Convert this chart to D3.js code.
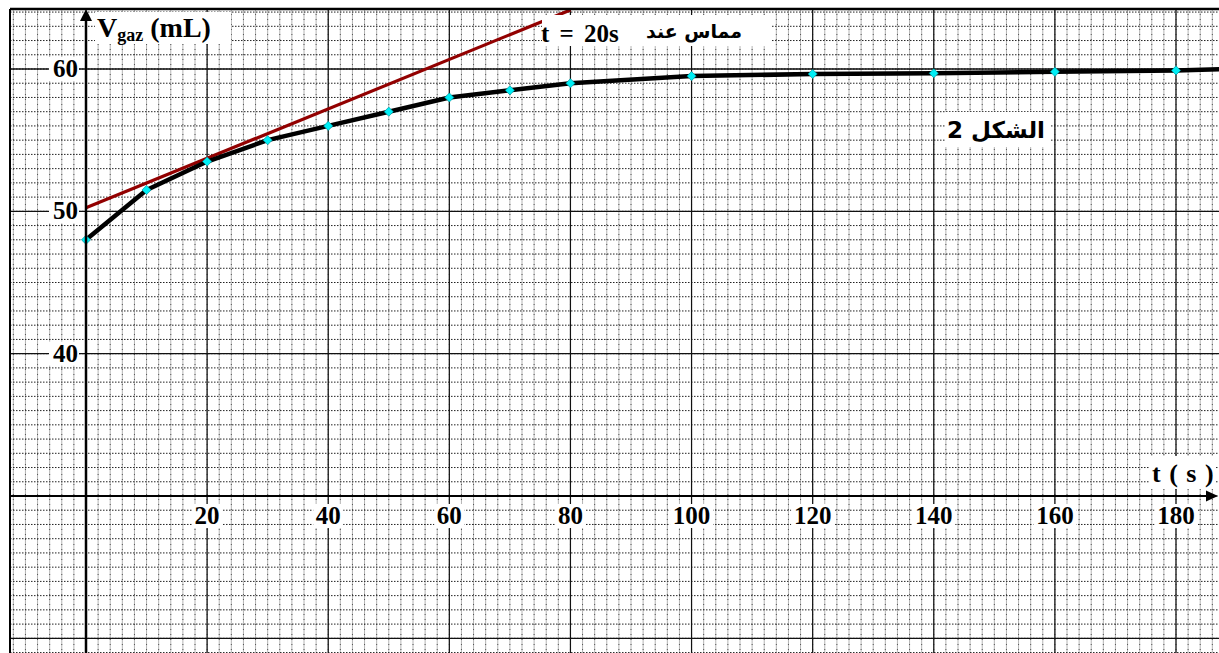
<!DOCTYPE html>
<html>
<head>
<meta charset="utf-8">
<script src="https://cdn.jsdelivr.net/npm/d3@7"></script>
<style>
  html, body { margin: 0; padding: 0; background: #fff; }
  svg { display: block; }
  text { font-family: "Liberation Serif", "Times New Roman", serif; font-weight: bold; }
  .ar { font-family: "DejaVu Sans", "Noto Sans", sans-serif; font-weight: bold; }
</style>
</head>
<body>
<script>
// ---- data ----
const times   = [0, 10, 20, 30, 40, 50, 60, 70, 80, 100, 120, 140, 160, 180];
const volumes = [48, 51.5, 53.5, 55, 56, 57, 58, 58.5, 59, 59.5, 59.65, 59.7, 59.8, 59.9];
const tailTime = [188];
const tailVolume = [60];
const tangentTimes = [0, 80];
const tangentVolumes = [50.25, 64.15];
const xTickLabels = [20, 40, 60, 80, 100, 120, 140, 160, 180];
const yTickLabels = [40, 50, 60];

const W = 1219, H = 653;
const svg = d3.select("body").append("svg").attr("width", W).attr("height", H);

const frame = {left: 10, top: 9, right: W, bottom: H};
const x = d3.scaleLinear().domain([0, 180]).range([86, 1176]);
const y = d3.scaleLinear().domain([30, 60]).range([496, 69]);

svg.append("defs").append("clipPath").attr("id", "clip")
  .append("rect").attr("x", frame.left).attr("y", frame.top)
  .attr("width", frame.right - frame.left).attr("height", frame.bottom - frame.top);

const g = svg.append("g").attr("clip-path", "url(#clip)");

// grid
const xMinor = d3.range(-12, 190, 2);
const yMinor = d3.range(19, 66, 1);
const xMajor = d3.range(20, 200, 20);
const yMajor = [20, 40, 50, 60];

g.selectAll(".vmin").data(xMinor).enter().append("line")
  .attr("x1", d => x(d)).attr("x2", d => x(d))
  .attr("y1", frame.top).attr("y2", frame.bottom)
  .attr("stroke", "#b4b4b4").attr("stroke-width", 1);
g.selectAll(".vmind").data(xMinor).enter().append("line")
  .attr("x1", d => x(d)).attr("x2", d => x(d))
  .attr("y1", frame.top).attr("y2", frame.bottom)
  .attr("stroke", "#555").attr("stroke-width", 1).attr("stroke-dasharray", "1,4");
g.selectAll(".hmin").data(yMinor).enter().append("line")
  .attr("x1", frame.left).attr("x2", frame.right)
  .attr("y1", d => y(d)).attr("y2", d => y(d))
  .attr("stroke", "#222").attr("stroke-width", 1).attr("stroke-dasharray", "1.5,1.5");
g.selectAll(".vmaj").data(xMajor).enter().append("line")
  .attr("x1", d => x(d)).attr("x2", d => x(d))
  .attr("y1", frame.top).attr("y2", frame.bottom)
  .attr("stroke", "#111").attr("stroke-width", 1.2);
g.selectAll(".hmaj").data(yMajor).enter().append("line")
  .attr("x1", frame.left).attr("x2", frame.right)
  .attr("y1", d => y(d)).attr("y2", d => y(d))
  .attr("stroke", "#111").attr("stroke-width", 1.3);

// frame lines
svg.append("line").attr("x1", frame.left).attr("x2", frame.left)
  .attr("y1", frame.top).attr("y2", frame.bottom).attr("stroke", "#000").attr("stroke-width", 2);
svg.append("line").attr("x1", frame.left).attr("x2", frame.right)
  .attr("y1", frame.top).attr("y2", frame.top).attr("stroke", "#000").attr("stroke-width", 2.5);

// axes
svg.append("line").attr("x1", x(0)).attr("x2", x(0))
  .attr("y1", frame.bottom).attr("y2", frame.top + 6).attr("stroke", "#000").attr("stroke-width", 2.5);
svg.append("path").attr("d", `M${x(0)},${frame.top} l-6,12 l12,0 z`).attr("fill", "#000");
svg.append("line").attr("x1", frame.left).attr("x2", W - 6)
  .attr("y1", y(30)).attr("y2", y(30)).attr("stroke", "#000").attr("stroke-width", 2);
svg.append("path").attr("d", `M${W - 1},${y(30)} l-12,-5.5 l0,11 z`).attr("fill", "#000");

// tangent
const tangent = tangentTimes.map((t, i) => [t, tangentVolumes[i]]);
g.append("path").datum(tangent)
  .attr("d", d3.line().x(d => x(d[0])).y(d => y(d[1])))
  .attr("stroke", "#920000").attr("stroke-width", 3.2).attr("fill", "none");

// curve
const pts = times.map((t, i) => [t, volumes[i]]);
const full = pts.concat(tailTime.map((t, i) => [t, tailVolume[i]]));
g.append("path").datum(full)
  .attr("d", d3.line().x(d => x(d[0])).y(d => y(d[1])))
  .attr("stroke", "#000").attr("stroke-width", 4.5).attr("fill", "none")
  .attr("stroke-linejoin", "round");
g.selectAll(".pt").data(pts).enter().append("path")
  .attr("transform", d => `translate(${x(d[0])},${y(d[1])}) rotate(45)`)
  .attr("d", d3.symbol().type(d3.symbolSquare).size(42))
  .attr("fill", "#00eef5").attr("stroke", "#008f96").attr("stroke-width", 0.6);

function boxedText(bx, by, bw, bh) {
  svg.append("rect").attr("x", bx).attr("y", by).attr("width", bw).attr("height", bh).attr("fill", "#fff");
}

// x tick labels
xTickLabels.forEach(v => {
  const w = String(v).length * 13 + 4;
  svg.append("rect").attr("x", x(v) - w / 2).attr("y", 504).attr("width", w).attr("height", 24).attr("fill", "#fff");
});
svg.selectAll(".xl").data(xTickLabels).enter().append("text")
  .attr("x", d => x(d)).attr("y", 524).attr("text-anchor", "middle")
  .attr("font-size", 25).text(d => d);

// y tick labels
yTickLabels.forEach(v => {
  svg.append("rect").attr("x", 49).attr("y", y(v) - 12).attr("width", 30).attr("height", 24).attr("fill", "#fff");
});
svg.selectAll(".yl").data(yTickLabels).enter().append("text")
  .attr("x", 78).attr("y", d => y(d) + 8).attr("text-anchor", "end")
  .attr("font-size", 25).text(d => d);

// y axis title
boxedText(95, 12, 136, 32);
const yt = svg.append("text").attr("x", 97).attr("y", 37).attr("font-size", 28);
yt.append("tspan").text("V");
yt.append("tspan").attr("font-size", 18).attr("dy", 4).text("gaz");
yt.append("tspan").attr("dy", -4).text(" (mL)");

// x axis title
boxedText(1150, 456, 66, 33);
svg.append("text").attr("x", 1152).attr("y", 482).attr("font-size", 26)
  .attr("word-spacing", 2).text("t ( s )");

// tangent label
boxedText(542, 15, 230, 31);
svg.append("text").attr("x", 541).attr("y", 42).attr("font-size", 25)
  .attr("word-spacing", 4).text("t = 20s");
svg.append("text").attr("class", "ar").attr("x", 694).attr("y", 38).attr("font-size", 19)
  .attr("text-anchor", "middle").text("مماس عند");

// figure label
boxedText(945, 112, 106, 35);
svg.append("text").attr("class", "ar").attr("x", 996).attr("y", 138).attr("font-size", 23)
  .attr("text-anchor", "middle").attr("direction", "rtl").text("الشكل 2");
</script>
</body>
</html>
